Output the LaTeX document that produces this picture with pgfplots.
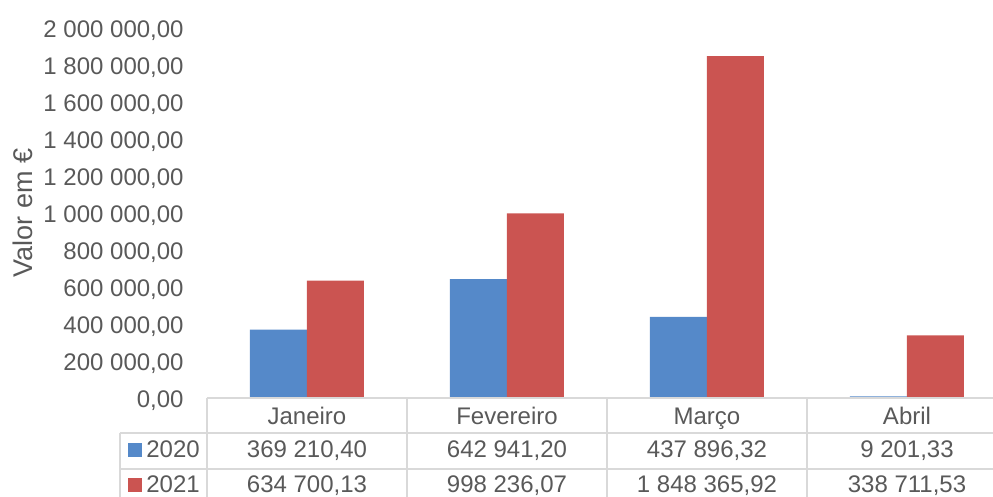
\documentclass[border=0pt]{standalone}
\usepackage{pgfplots}
\pgfplotsset{compat=1.18}
\usepackage{fontspec}
\setmainfont{Liberation Sans}
\definecolor{txt}{HTML}{595959}
\definecolor{grid}{HTML}{D9D9D9}
\definecolor{c2020}{HTML}{5589C9}
\definecolor{c2021}{HTML}{CB5451}

\begin{document}
\begin{tikzpicture}[font=\fontsize{12pt}{14pt}\selectfont, text=txt]
\begin{axis}[
    scale only axis,
    width=400pt, height=185pt,
    xmin=-0.5, xmax=3.5,
    ymin=0, ymax=2000000,
    ytick={0,200000,...,2000000},
    scaled y ticks=false,
    axis x line=none,
    axis y line*=left,
    y axis line style={draw=none},
    major tick length=0pt,
    yticklabel style={
        /pgf/number format/.cd, fixed, fixed zerofill, precision=2,
        use comma, 1000 sep={\ }, assume math mode=true,
        /tikz/.cd, font=\fontsize{12pt}{14pt}\selectfont, text=txt,
        anchor=east, inner sep=0pt, xshift=-11.5pt, yshift=-1.2pt},
    ybar=0pt, bar width=28.5pt,
    clip=false,
]
    \addplot[fill=c2020, draw=none] coordinates {
        (0, 369210.40) (1, 642941.20) (2, 437896.32) (3, 9201.33)
    };
    \addplot[fill=c2021, draw=none] coordinates {
        (0, 634700.13) (1, 998236.07) (2, 1848365.92) (3, 338711.53)
    };
\end{axis}

% y label
\node[rotate=90, font=\fontsize{13.5pt}{16pt}\selectfont] at (-92pt,92.5pt) {Valor em €};

% data table
\begin{scope}[draw=grid, line width=0.9pt]
    \draw (0pt,0pt) -- (400pt,0pt);
    \draw (-43.5pt,-17.5pt) -- (400pt,-17.5pt);
    \draw (-43.5pt,-35.5pt) -- (400pt,-35.5pt);
    \draw (-43.5pt,-17.5pt) -- (-43.5pt,-60pt);
    \foreach \x in {0,100,200,300,400} \draw (\x pt,0pt) -- (\x pt,-60pt);
\end{scope}

\foreach \lab [count=\i from 0] in {Janeiro,Fevereiro,Março,Abril}
    \node[anchor=base, inner sep=0pt] at (\i*100pt+50pt,-13.5pt) {\lab};

\fill[c2020] (-39.5pt,-29.5pt) rectangle (-32.5pt,-22.5pt);
\fill[c2021] (-39.5pt,-47pt) rectangle (-32.5pt,-40pt);
\node[anchor=base west, inner sep=0pt] at (-30.5pt,-30pt) {2020};
\node[anchor=base west, inner sep=0pt] at (-30.5pt,-47.5pt) {2021};

\node[anchor=base, inner sep=0pt] at (50pt,-30pt) {369 210,40};
\node[anchor=base, inner sep=0pt] at (150pt,-30pt) {642 941,20};
\node[anchor=base, inner sep=0pt] at (250pt,-30pt) {437 896,32};
\node[anchor=base, inner sep=0pt] at (350pt,-30pt) {9 201,33};
\node[anchor=base, inner sep=0pt] at (50pt,-47.5pt) {634 700,13};
\node[anchor=base, inner sep=0pt] at (150pt,-47.5pt) {998 236,07};
\node[anchor=base, inner sep=0pt] at (250pt,-47.5pt) {1 848 365,92};
\node[anchor=base, inner sep=0pt] at (350pt,-47.5pt) {338 711,53};

\pgfresetboundingbox
\path[use as bounding box] (-103.5pt,-49.5pt) rectangle (393pt,199pt);
\end{tikzpicture}
\end{document}
